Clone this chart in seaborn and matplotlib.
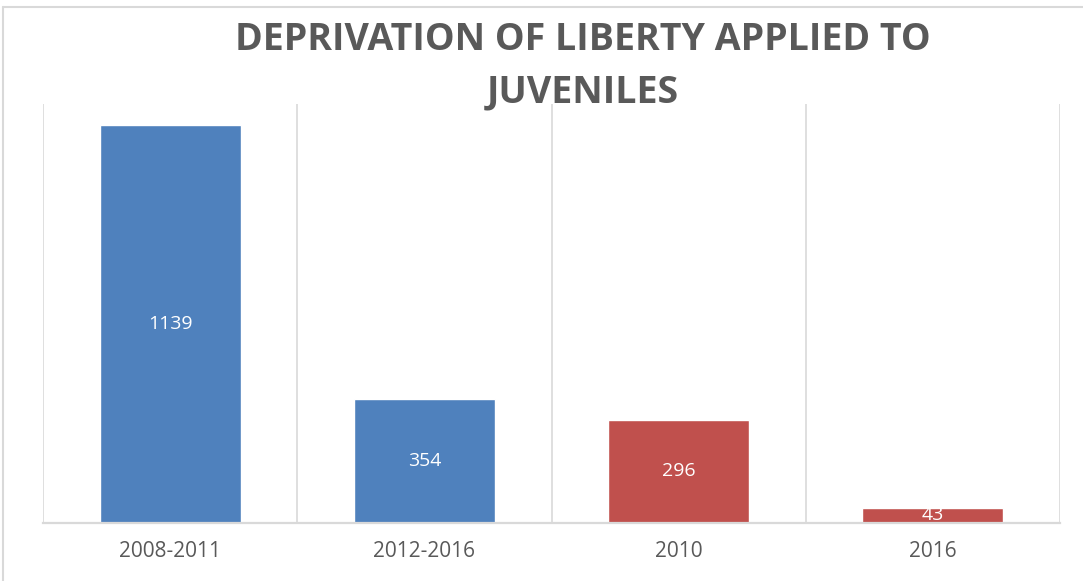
import matplotlib
matplotlib.use("Agg")
import matplotlib.pyplot as plt
from matplotlib.lines import Line2D
import seaborn as sns
import pandas as pd

# Data
categories = ["2008-2011", "2012-2016", "2010", "2016"]
values = [1139, 354, 296, 43]
bar_colors = ["#4F81BD", "#4F81BD", "#C0504D", "#C0504D"]

title_lines = ["DEPRIVATION OF LIBERTY APPLIED TO", "JUVENILES"]

sns.set_theme(style="white")
plt.rcParams["font.family"] = ["Open Sans", "DejaVu Sans"]

df = pd.DataFrame({"period": categories, "count": values})

fig = plt.figure(figsize=(10.83, 5.81), dpi=100)
ax = fig.add_axes([43 / 1083, 1 - 523 / 581, (1060 - 43) / 1083, (523 - 104) / 581])

sns.barplot(data=df, x="period", y="count", hue="period", palette=bar_colors,
            legend=False, width=0.555, saturation=1, ax=ax)

ax.set_xlim(-0.5, len(categories) - 0.5)
ax.set_ylim(0, 1200)

# vertical separators between categories
for xb in [i - 0.5 for i in range(len(categories) + 1)]:
    ax.axvline(xb, color="#D9D9D9", lw=1.2, zorder=0)

for side in ["left", "right", "top"]:
    ax.spines[side].set_visible(False)
ax.spines["bottom"].set_color("#D9D9D9")
ax.spines["bottom"].set_linewidth(1.6)

ax.set_yticks([])
ax.set_xlabel("")
ax.set_ylabel("")
ax.tick_params(axis="x", length=0, pad=13, labelsize=15, labelcolor="#595959")

for c in ax.containers:
    ax.bar_label(c, label_type="center", color="white", fontsize=14)

# two-line title
for line, ypix in zip(title_lines, [40, 92]):
    fig.text(583 / 1083, 1 - ypix / 581, line, ha="center", va="center",
             fontsize=27, fontweight="bold", color="#595959")

# chart frame
fig.add_artist(Line2D([3 / 1083, 1], [1 - 7 / 581, 1 - 7 / 581],
                      transform=fig.transFigure, color="#D9D9D9", lw=1.5))
fig.add_artist(Line2D([3 / 1083, 3 / 1083], [0, 1 - 7 / 581],
                      transform=fig.transFigure, color="#D9D9D9", lw=1.5))

fig.savefig("out.png", dpi=100, facecolor="white")
